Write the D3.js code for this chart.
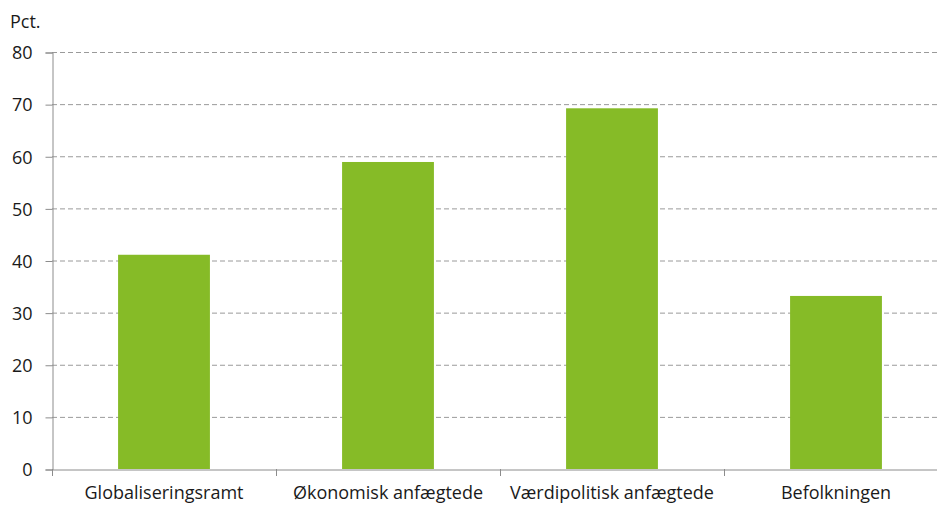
<!DOCTYPE html>
<html>
<head>
<meta charset="utf-8">
<script src="https://cdn.jsdelivr.net/npm/d3@7"></script>
<style>
  body { margin: 0; background: #fff; }
  svg { display: block; font-family: "Open Sans", sans-serif; }
</style>
</head>
<body>
<svg id="drawing_region"></svg>
<script>
const categories = ["Globaliseringsramt", "Økonomisk anfægtede", "Værdipolitisk anfægtede", "Befolkningen"];
const values = [41.1, 58.9, 69.2, 33.2];
const yTicks = [0, 10, 20, 30, 40, 50, 60, 70, 80];

const width = 937, height = 507;
const margin = { top: 52, left: 52, bottom: 38 };
const plotRight = 948;

const svg = d3.select("#drawing_region")
    .attr("width", width)
    .attr("height", height);

const xscale = d3.scaleBand()
    .domain(categories)
    .range([margin.left, plotRight]);

const yscale = d3.scaleLinear()
    .domain([0, 80])
    .range([height - margin.bottom, margin.top]);

// gridlines
svg.append("g")
    .selectAll("line")
    .data(yTicks.filter(d => d > 0))
    .enter()
    .append("line")
    .attr("x1", margin.left)
    .attr("x2", plotRight)
    .attr("y1", d => yscale(d) + 0.5)
    .attr("y2", d => yscale(d) + 0.5)
    .attr("stroke", "#9a9a9a")
    .attr("stroke-dasharray", "5,3");

// bars
const barW = xscale.bandwidth() * 0.41;
svg.append("g")
    .selectAll("rect")
    .data(values)
    .enter()
    .append("rect")
    .attr("x", (d, i) => xscale(categories[i]) + (xscale.bandwidth() - barW) / 2)
    .attr("y", d => yscale(d))
    .attr("width", barW)
    .attr("height", d => yscale(0) - yscale(d))
    .attr("fill", "#86bb27");

// y axis
const yaxis = d3.axisLeft(yscale)
    .tickValues(yTicks)
    .tickSize(7)
    .tickPadding(13);

svg.append("g")
    .attr("transform", `translate(${margin.left + 0.5}, 0.5)`)
    .call(yaxis)
    .attr("font-family", null)
    .attr("font-size", null)
    .call(g => g.selectAll("path, line").attr("stroke", "#8c8c8c"))
    .call(g => g.selectAll("text").attr("font-size", "18px").attr("fill", "#1a1a1a").attr("dy", "0.35em"));

// x axis
const xaxis = d3.axisBottom(xscale)
    .tickSize(0)
    .tickPadding(17);

svg.append("g")
    .attr("transform", `translate(0, ${yscale(0) + 0.5})`)
    .call(xaxis)
    .attr("font-family", null)
    .attr("font-size", null)
    .call(g => g.select(".domain").attr("stroke", "#8c8c8c"))
    .call(g => g.selectAll("text").attr("font-size", "18px").attr("fill", "#1a1a1a"));

// category separator ticks
svg.append("g")
    .selectAll("line")
    .data(categories)
    .enter()
    .append("line")
    .attr("x1", d => Math.round(xscale(d)) + 0.5)
    .attr("x2", d => Math.round(xscale(d)) + 0.5)
    .attr("y1", yscale(0))
    .attr("y2", yscale(0) + 7)
    .attr("stroke", "#8c8c8c");

svg.append("text")
    .attr("x", 10)
    .attr("y", 28)
    .attr("font-size", "18px")
    .attr("fill", "#1a1a1a")
    .text("Pct.");
</script>
</body>
</html>
